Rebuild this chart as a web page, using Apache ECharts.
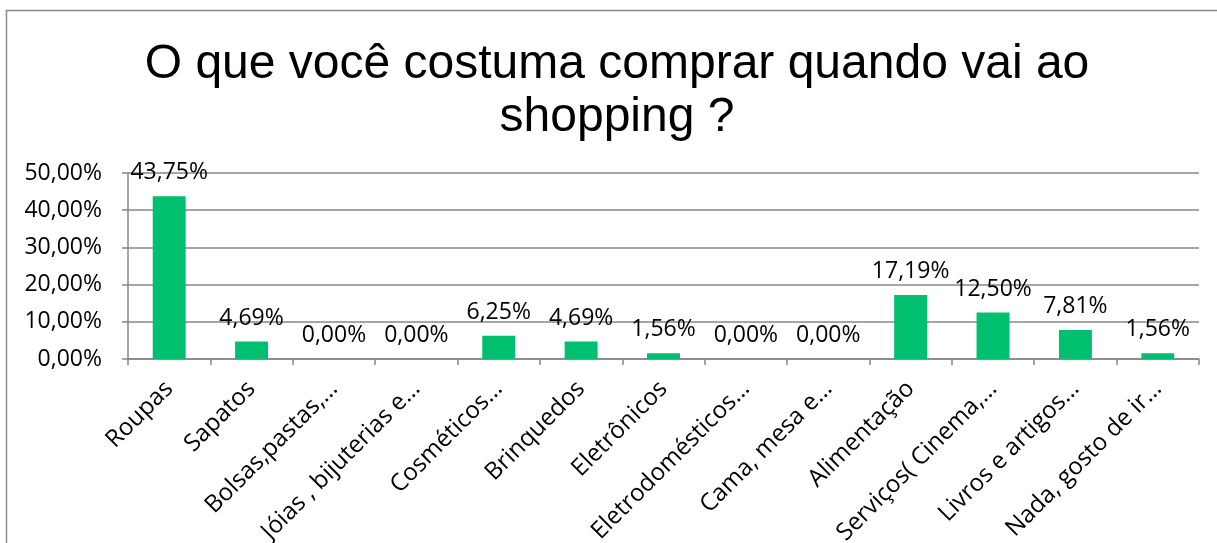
<!DOCTYPE html>
<html>
<head>
<meta charset="utf-8">
<style>
  html, body { margin: 0; padding: 0; background: #fff; }
  #chart { width: 1217px; height: 543px; }
</style>
<script src="https://cdn.jsdelivr.net/npm/echarts@6/dist/echarts.min.js"></script>
</head>
<body>
<div id="chart"></div>
<script>
// Survey answers: what people usually buy at the mall
const categories = [
  'Roupas', 'Sapatos', 'Bolsas,pastas,…', 'Jóias , bijuterias e…', 'Cosméticos…',
  'Brinquedos', 'Eletrônicos', 'Eletrodomésticos…', 'Cama, mesa e…', 'Alimentação',
  'Serviços( Cinema,…', 'Livros e artigos…', 'Nada, gosto de ir…'
];
const shares = [43.75, 4.69, 0.00, 0.00, 6.25, 4.69, 1.56, 0.00, 0.00, 17.19, 12.50, 7.81, 1.56];
const yTicks = [0, 10, 20, 30, 40, 50];

const pct = v => v.toFixed(2).replace('.', ',') + '%';
const gray = '#878787';
const font = '"Open Sans", sans-serif';

const chart = echarts.init(document.getElementById('chart'));
chart.setOption({
  animation: false,
  backgroundColor: '#ffffff',
  graphic: [{
    type: 'rect',
    shape: { x: 6.5, y: 10.5, width: 1400, height: 800 },
    style: { fill: 'none', stroke: '#8a8a8a', lineWidth: 1.5 },
    silent: true
  }],
  title: {
    text: 'O que você costuma comprar quando vai ao\nshopping ?',
    left: 612,
    textAlign: 'center',
    top: 33,
    textStyle: {
      fontFamily: '"Liberation Sans", Arial, sans-serif',
      fontSize: 48,
      fontWeight: 'normal',
      color: '#000',
      lineHeight: 53
    }
  },
  grid: { left: 128, right: 18, top: 173, bottom: 184, outerBoundsMode: 'none', containLabel: false },
  xAxis: {
    type: 'category',
    data: categories,
    axisLine: { lineStyle: { color: gray, width: 1.5 } },
    axisTick: { show: true, length: 6, alignWithLabel: false, lineStyle: { color: gray, width: 1.5 } },
    axisLabel: {
      interval: 0,
      rotate: 45,
      margin: 26,
      fontFamily: font,
      fontSize: 24,
      color: '#000'
    }
  },
  yAxis: {
    type: 'value',
    min: yTicks[0],
    max: yTicks[yTicks.length - 1],
    interval: yTicks[1] - yTicks[0],
    axisLine: { show: true, lineStyle: { color: gray, width: 1.5 } },
    axisTick: { show: true, length: 6, lineStyle: { color: gray, width: 1.5 } },
    splitLine: { show: true, lineStyle: { color: gray, width: 1.5 } },
    axisLabel: {
      margin: 26,
      formatter: v => pct(v),
      fontFamily: font,
      fontSize: 23,
      color: '#000'
    }
  },
  series: [{
    type: 'bar',
    data: shares,
    barWidth: '40%',
    itemStyle: { color: '#00BF6F' },
    label: {
      show: true,
      position: 'top',
      distance: 12,
      formatter: p => pct(p.value),
      fontFamily: font,
      fontSize: 23,
      color: '#000'
    }
  }]
});
</script>
</body>
</html>
